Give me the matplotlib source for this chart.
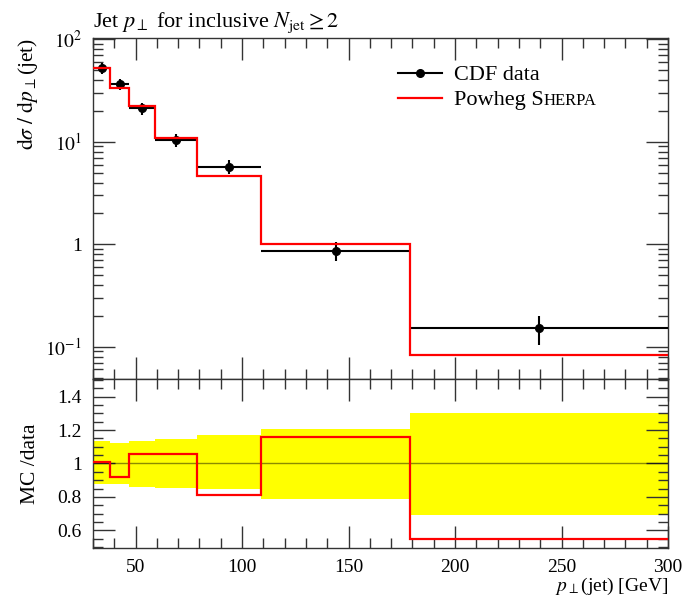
import numpy as np
import matplotlib
matplotlib.use("Agg")
import matplotlib.pyplot as plt
from matplotlib.lines import Line2D
from matplotlib.ticker import MultipleLocator, LogLocator, FuncFormatter, NullFormatter

plt.rcParams['font.family'] = ['Liberation Serif', 'DejaVu Serif']
plt.rcParams['mathtext.fontset'] = 'stix'

# Jet pT binning [GeV] and measured / predicted cross sections
bin_edges = [30, 38, 47, 59, 79, 109, 179, 300]
cdf_xsec = [52.0, 36.5, 21.2, 10.4, 5.7, 0.865, 0.152]
cdf_err_up = [7.0, 4.5, 2.9, 1.5, 0.97, 0.18, 0.046]
cdf_err_dn = [6.5, 4.4, 3.0, 1.55, 0.88, 0.186, 0.047]
powheg_xsec = [52.5, 33.6, 22.4, 11.0, 4.62, 1.0, 0.0835]

edges = np.array(bin_edges, dtype=float)
centers = 0.5 * (edges[:-1] + edges[1:])
halfw = 0.5 * np.diff(edges)
data = np.array(cdf_xsec)
up = np.array(cdf_err_up)
dn = np.array(cdf_err_dn)
mc = np.array(powheg_xsec)

W, H = 685, 604
fig = plt.figure(figsize=(W / 100, H / 100), dpi=100)
L, R = 93, 668
T, M, B = 38, 379, 548
ax = fig.add_axes([L / W, 1 - M / H, (R - L) / W, (M - T) / H])
rax = fig.add_axes([L / W, 1 - B / H, (R - L) / W, (B - M) / H], sharex=ax)

FS_TICK = 14
FS_LAB = 15.5
FS_TITLE = 16
FS_LEG = 16
axis_col = '#333333'

# --- main panel ---
ax.errorbar(centers, data, xerr=halfw, yerr=[dn, up], fmt='o', color='black',
            ms=5.5, lw=1.5, capsize=0, zorder=3)
ax.stairs(mc, edges, color='red', lw=1.6, baseline=None, zorder=4)
ax.set_yscale('log')
ax.set_xlim(30, 300)
ax.set_ylim(0.0484, 103)


def log_label(v, pos):
    k = int(round(np.log10(v)))
    if k == 0:
        return "1"
    return rf"$10^{{{k}}}$"


ax.yaxis.set_major_locator(LogLocator(base=10))
ax.yaxis.set_minor_locator(LogLocator(base=10, subs=np.arange(2, 10)))
ax.yaxis.set_major_formatter(FuncFormatter(log_label))
ax.yaxis.set_minor_formatter(NullFormatter())
ax.tick_params(labelbottom=False)

ax.set_title(r"Jet $p_\perp$ for inclusive $N_\mathrm{jet} \geq 2$",
             loc='left', fontsize=FS_TITLE, pad=8)
ax.set_ylabel(r"$\mathrm{d}\sigma\ /\ \mathrm{d}p_\perp$(jet)", fontsize=FS_LAB,
              loc='top')
ax.yaxis.set_label_coords(-0.093, 1.0)

handles = [Line2D([], [], color='black', lw=1.5, marker='o', ms=5.5),
           Line2D([], [], color='red', lw=1.6)]
leg = ax.legend(handles, ["CDF data", "Powheg S"], loc='upper left',
                bbox_to_anchor=(0.53, 0.921), frameon=False, fontsize=FS_LEG,
                borderpad=0, borderaxespad=0, handlelength=2.0,
                handletextpad=0.53, labelspacing=0.2, numpoints=1)

# --- ratio panel ---
ratio = mc / data
band_hi = 1 + up / data
band_lo = 1 - dn / data
rax.stairs(band_hi, edges, baseline=band_lo, fill=True, color='#ffff00', lw=0,
           zorder=1)
rax.axhline(1.0, color='black', lw=1, alpha=0.45, zorder=2)
rax.stairs(ratio, edges, color='red', lw=1.6, baseline=None, zorder=3)
rax.set_ylim(0.495, 1.505)
rax.yaxis.set_major_locator(MultipleLocator(0.2))
rax.yaxis.set_minor_locator(MultipleLocator(0.05))
rax.yaxis.set_major_formatter(
    FuncFormatter(lambda v, p: f"{v:.1f}".rstrip('0').rstrip('.')))
rax.xaxis.set_major_locator(MultipleLocator(50))
rax.xaxis.set_minor_locator(MultipleLocator(10))
rax.set_ylabel("MC /data", fontsize=FS_LAB)
rax.yaxis.set_label_coords(-0.093, 0.5)
rax.set_xlabel(r"$p_\perp$(jet) [GeV]", fontsize=14, loc='right', labelpad=0)

for a in (ax, rax):
    a.tick_params(which='both', direction='in', top=True, right=True,
                  color=axis_col, width=1, labelsize=FS_TICK)
    a.tick_params(which='major', length=16)
    a.tick_params(which='minor', length=7)
    a.tick_params(axis='y', pad=8)
    a.tick_params(axis='x', pad=8)
    for s in a.spines.values():
        s.set_color(axis_col)
        s.set_linewidth(1)

# small-caps tail of the generator name in the legend
fig.canvas.draw()
renderer = fig.canvas.get_renderer()
t = leg.get_texts()[1]
bb = t.get_window_extent(renderer)
fp = t.get_fontproperties()
_, _, d_lp = renderer.get_text_width_height_descent("lp", fp, ismath=False)
_, _, d_tx = renderer.get_text_width_height_descent(t.get_text(), fp, ismath=False)
baseline = bb.y0 + max(d_lp, d_tx)
fig.text(bb.x1 / fig.bbox.width, baseline / fig.bbox.height, "HERPA",
         fontsize=12, va='baseline', ha='left')

fig.savefig("out.png", dpi=100)
